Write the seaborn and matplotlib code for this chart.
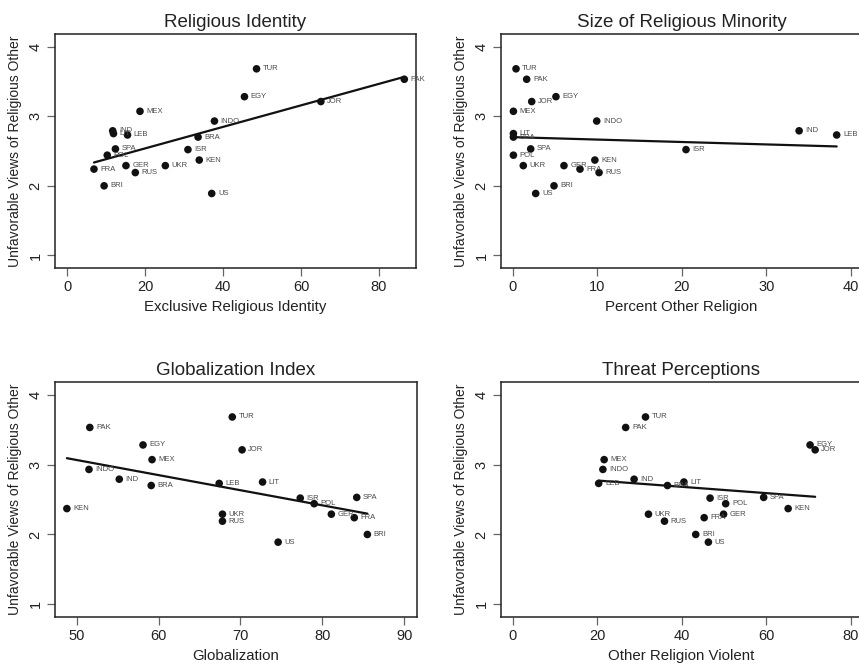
import numpy as np
import pandas as pd
import matplotlib
matplotlib.use("Agg")
import matplotlib.pyplot as plt
import seaborn as sns

# country codes and the dependent variable (same in all four panels)
countries = ["TUR", "PAK", "EGY", "JOR", "MEX", "INDO", "IND", "LIT", "LEB", "BRA",
             "SPA", "ISR", "POL", "KEN", "GER", "UKR", "FRA", "RUS", "BRI", "US"]
unfavorable = [3.68, 3.53, 3.28, 3.21, 3.07, 2.93, 2.79, 2.75, 2.73, 2.70,
               2.53, 2.52, 2.44, 2.37, 2.29, 2.29, 2.24, 2.19, 2.00, 1.89]

# predictors
excl_identity = [48.6, 86.5, 45.5, 65.1, 18.7, 37.8, 11.7, 11.9, 15.5, 33.6,
                 12.4, 31.0, 10.3, 33.9, 15.1, 25.2, 6.9, 17.5, 9.5, 37.1]
pct_other = [0.36, 1.62, 5.09, 2.22, 0.05, 9.92, 33.9, 0.05, 38.35, 0.05,
             2.10, 20.5, 0.05, 9.7, 6.04, 1.22, 7.94, 10.2, 4.86, 2.69]
globalization = [69.0, 51.6, 58.1, 70.2, 59.2, 51.5, 55.2, 72.7, 67.4, 59.1,
                 84.2, 77.3, 79.0, 48.8, 81.1, 67.8, 83.9, 67.8, 85.5, 74.6]
threat = [31.4, 26.7, 70.4, 71.6, 21.6, 21.3, 28.7, 40.5, 20.3, 36.6,
          59.4, 46.7, 50.4, 65.2, 49.9, 32.1, 45.3, 35.9, 43.3, 46.3]

df = pd.DataFrame({
    "country": countries,
    "unfav": unfavorable,
    "excl": excl_identity,
    "pct": pct_other,
    "glob": globalization,
    "threat": threat,
})

sns.set_style("ticks")
plt.rcParams["font.family"] = ["Liberation Sans", "DejaVu Sans"]

W, H = 859, 668
fig = plt.figure(figsize=(W / 100, H / 100), dpi=100)


def box(left, top, width, height):
    return [left / W, 1 - (top + height) / H, width / W, height / H]


panels = [
    ("excl", "Religious Identity", "Exclusive Religious Identity",
     box(55, 34, 361, 234), (-3.1, 89.5), [0, 20, 40, 60, 80]),
    ("pct", "Size of Religious Minority", "Percent Other Religion",
     box(501, 34, 361, 234), (-1.42, 41.35), [0, 10, 20, 30, 40]),
    ("glob", "Globalization Index", "Globalization",
     box(55, 382, 362, 235), (47.35, 91.56), [50, 60, 70, 80, 90]),
    ("threat", "Threat Perceptions", "Other Religion Violent",
     box(501, 382, 361, 235), (-2.84, 82.7), [0, 20, 40, 60, 80]),
]

for col, title, xlabel, pos, xlim, xticks in panels:
    ax = fig.add_axes(pos)
    sns.regplot(data=df, x=col, y="unfav", ax=ax, ci=None,
                scatter_kws=dict(s=30, color="#111111", edgecolor="none", alpha=1),
                line_kws=dict(color="#111111", lw=1.6))
    for _, r in df.iterrows():
        ax.annotate(r["country"], (r[col], r["unfav"]), xytext=(4.5, 0),
                    textcoords="offset points", fontsize=5.5, color="#4a4a4a",
                    va="center", ha="left")
    ax.set_xlim(*xlim)
    ax.set_ylim(0.82, 4.18)
    ax.set_xticks(xticks)
    ax.set_yticks([1, 2, 3, 4])
    ax.set_title(title, fontsize=13.5, color="#222222", pad=5)
    ax.set_xlabel(xlabel, fontsize=10.8, color="#222222", labelpad=4)
    ax.set_ylabel("Unfavorable Views of Religious Other", fontsize=10,
                  color="#222222", labelpad=5)
    ax.tick_params(direction="out", length=6, width=0.9, color="#666666",
                   labelsize=10.5, labelcolor="#222222", pad=3)
    plt.setp(ax.get_yticklabels(), rotation=90, va="center")
    for sp in ax.spines.values():
        sp.set_visible(True)
        sp.set_color("#222222")
        sp.set_linewidth(1.1)

fig.savefig("out.png", dpi=100)
